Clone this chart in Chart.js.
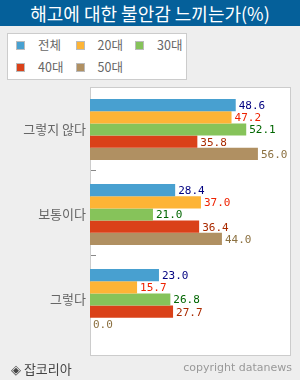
<!DOCTYPE html>
<html>
<head>
<meta charset="utf-8">
<script src="https://cdn.jsdelivr.net/npm/chart.js@4/dist/chart.umd.min.js"></script>
<style>
  html, body { margin:0; padding:0; }
  body { width:300px; height:380px; background:#eeeeee; position:relative; overflow:hidden; font-family:"Noto Sans CJK KR", "Noto Sans", sans-serif; }
  .title { position:absolute; left:0; top:0; width:300px; height:26px; background:#05609a; color:#fff; font-size:18px; line-height:26px; text-align:center; }
  .legend { position:absolute; left:7px; top:33px; width:178px; height:45px; background:#fff; border:1px solid #cccccc; }
  .lg-item { position:absolute; font-size:12.5px; color:#666; line-height:14px; }
  .lg-item i { position:absolute; left:0; top:3px; width:7px; height:7px; border:1px solid #bbb; }
  .lg-item span { position:absolute; left:22px; top:0; white-space:nowrap; }
  .plotbox { position:absolute; left:90px; top:87px; width:199px; height:267px; background:#fff; border:1px solid #cccccc; }
  canvas { position:absolute; left:0; top:0; }
  .foot-l { position:absolute; left:11px; top:359px; font-size:13px; color:#444; }
  .foot-r { position:absolute; right:8px; top:361px; font-size:11px; color:#999; font-family:"DejaVu Sans", sans-serif; }
</style>
</head>
<body>
<div class="title">해고에 대한 불안감 느끼는가(%)</div>
<div class="legend" id="legend"></div>
<div class="plotbox"></div>
<div style="position:absolute;left:0;top:0;width:300px;height:380px"><canvas id="chart"></canvas></div>
<div class="foot-l">◈ 잡코리아</div>
<div class="foot-r">copyright datanews</div>
<script>
const categories = ['그렇지 않다', '보통이다', '그렇다'];
const seriesNames = ['전체', '20대', '30대', '40대', '50대'];
const total = [48.6, 28.4, 23.0];
const age20 = [47.2, 37.0, 15.7];
const age30 = [52.1, 21.0, 26.8];
const age40 = [35.8, 36.4, 27.7];
const age50 = [56.0, 44.0, 0.0];
const barColors = ['#48a0d0', '#fdb436', '#86c35a', '#da4119', '#b09062'];
const labelColors = ['#000080', '#ee2200', '#006600', '#aa2a00', '#8b7040'];

const values = [total, age20, age30, age40, age50];

// html legend, 3 per row
const lg = document.getElementById('legend');
seriesNames.forEach((name, i) => {
  const d = document.createElement('div');
  d.className = 'lg-item';
  d.style.left = (8 + (i % 3) * 59.5) + 'px';
  d.style.top = (i < 3 ? 4 : 26) + 'px';
  d.innerHTML = `<i style="background:${barColors[i]}"></i><span>${name}</span>`;
  lg.appendChild(d);
});

const valueLabels = {
  id: 'valueLabels',
  afterDatasetsDraw(chart) {
    const ctx = chart.ctx;
    ctx.save();
    ctx.font = '11px "DejaVu Sans Mono", monospace';
    ctx.textBaseline = 'middle';
    ctx.textAlign = 'left';
    chart.data.datasets.forEach((ds, di) => {
      const meta = chart.getDatasetMeta(di);
      ctx.fillStyle = labelColors[di];
      meta.data.forEach((bar, i) => {
        ctx.fillText(ds.data[i].toFixed(1), bar.x + 3, bar.y + 1);
      });
    });
    ctx.restore();
  }
};

// short dashes between categories
const catDash = {
  id: 'catDash',
  afterDraw(chart) {
    const y = chart.scales.y, ctx = chart.ctx, left = chart.chartArea.left;
    ctx.save();
    ctx.strokeStyle = '#888';
    ctx.lineWidth = 1;
    for (let i = 0; i < categories.length - 1; i++) {
      const py = Math.round((y.getPixelForValue(i) + y.getPixelForValue(i + 1)) / 2) - 1.5;
      ctx.beginPath();
      ctx.moveTo(left + 1, py);
      ctx.lineTo(left + 6, py);
      ctx.stroke();
    }
    ctx.restore();
  }
};

new Chart(document.getElementById('chart'), {
  type: 'bar',
  data: {
    labels: categories,
    datasets: seriesNames.map((name, i) => ({
      label: name,
      data: values[i],
      backgroundColor: barColors[i],
      borderWidth: 0,
      barPercentage: 1,
      categoryPercentage: 0.72
    }))
  },
  options: {
    indexAxis: 'y',
    responsive: true,
    maintainAspectRatio: false,
    animation: false,
    layout: { padding: { top: 87, bottom: 38, right: 10, left: 0 } },
    plugins: { legend: { display: false }, tooltip: { enabled: false } },
    scales: {
      x: { display: false, min: 0, max: 66.7 },
      y: {
        afterFit: s => { s.width = 90; },
        grid: { display: false, drawTicks: false },
        border: { display: false },
        ticks: { color: '#666', padding: 4, font: { size: 13, family: '"Noto Sans CJK KR", sans-serif' } }
      }
    }
  },
  plugins: [valueLabels, catDash]
});
</script>
</body>
</html>
